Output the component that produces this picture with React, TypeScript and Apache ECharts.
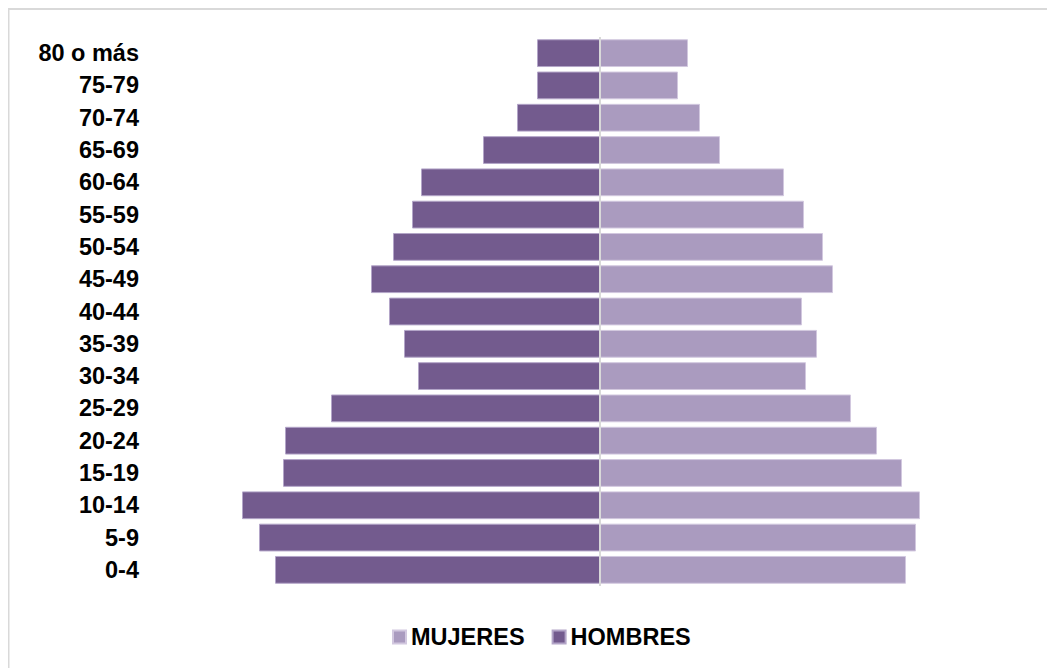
import React, { useEffect, useRef } from "react";
import * as echarts from "echarts";

const categories = ["0-4", "5-9", "10-14", "15-19", "20-24", "25-29", "30-34", "35-39", "40-44", "45-49", "50-54", "55-59", "60-64", "65-69", "70-74", "75-79", "80 o más"];
const hombres = [325, 341, 358, 317, 315, 269, 182, 196, 211, 229, 207, 188, 179, 117, 83, 63, 63];
const mujeres = [306, 316, 320, 302, 277, 251, 206, 217, 202, 233, 223, 204, 184, 120, 100, 78, 88];

export default function App() {
  const ref = useRef<HTMLDivElement>(null);
  useEffect(() => {
    document.documentElement.style.overflow = "hidden";
    document.body.style.overflow = "hidden";
    const chart = echarts.init(ref.current!, null, { renderer: "svg" });
    const font = "Liberation Sans, Arial, sans-serif";
    chart.setOption({
      animation: false,
      graphic: [
        {
          type: "rect",
          shape: { x: 0.5, y: 1, width: 3000, height: 3000 },
          style: { fill: "none", stroke: "#d9d9d9", lineWidth: 2 },
          silent: true,
        },
      ],
      legend: {
        data: ["MUJERES", "HOMBRES"],
        left: 384,
        top: 617,
        padding: 0,
        itemWidth: 13,
        itemHeight: 13,
        itemGap: 27,
        icon: "rect",
        textStyle: { fontSize: 23.5, fontWeight: "bold", color: "#000", fontFamily: font },
      },
      grid: { left: 192, top: 29, width: 800, height: 549, containLabel: false },
      xAxis: {
        type: "value",
        min: -400,
        max: 400,
        show: false,
      },
      yAxis: {
        type: "category",
        data: categories,
        axisLine: { show: false },
        axisTick: { show: false },
        splitLine: { show: false },
        axisLabel: { margin: 61, fontSize: 23.5, fontWeight: "bold", color: "#000", fontFamily: font },
      },
      series: [
        {
          name: "HOMBRES",
          type: "bar",
          stack: "p",
          barCategoryGap: "14%",
          data: hombres.map((v) => -v),
          itemStyle: { color: "#735b8e", borderColor: "#b3a5c8", borderWidth: 1 },
          markLine: {
            silent: true,
            symbol: "none",
            label: { show: false },
            lineStyle: { color: "#d9d9d9", width: 2, type: "solid" },
            data: [{ xAxis: 0 }],
            z: 10,
          },
        },
        {
          name: "MUJERES",
          type: "bar",
          stack: "p",
          barCategoryGap: "14%",
          data: mujeres,
          itemStyle: { color: "#aa9bbf", borderColor: "#d2c8df", borderWidth: 1 },
        },
      ],
    });
    return () => chart.dispose();
  }, []);
  return <div ref={ref} style={{ width: 1047, height: 660 }} />;
}
